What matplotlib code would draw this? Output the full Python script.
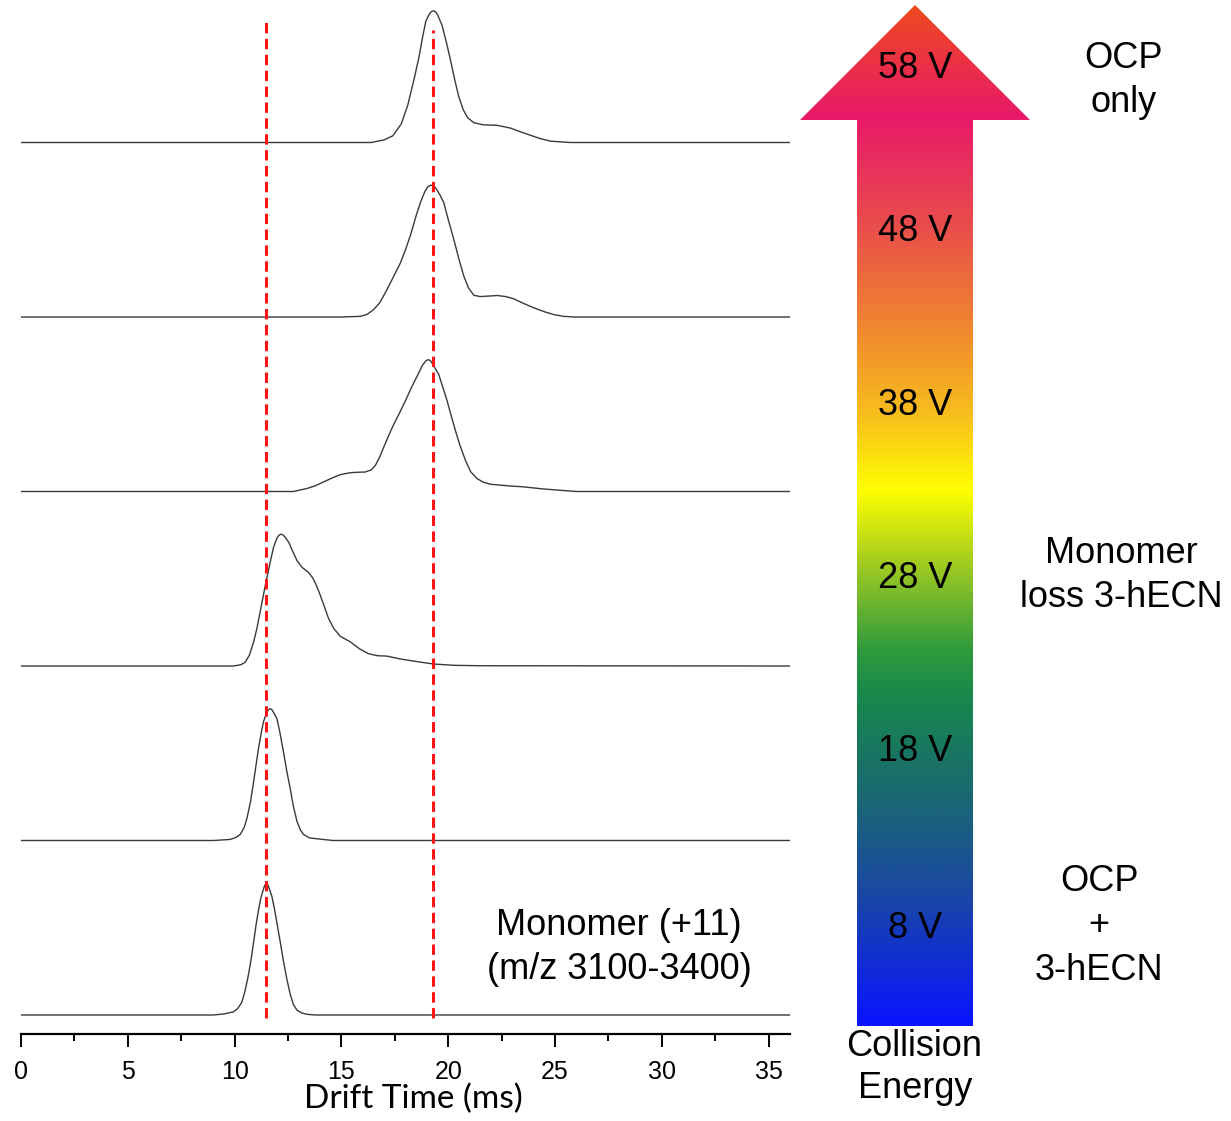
import numpy as np
import matplotlib

matplotlib.use("Agg")
import matplotlib.pyplot as plt
from matplotlib.colors import LinearSegmentedColormap
from matplotlib.patches import Polygon
from matplotlib.ticker import MultipleLocator

# drift time (ms) / relative intensity (% of each trace's max)
t_58 = [0, 16.4, 17.0, 17.4, 17.8, 18.1, 18.4, 18.62, 18.8, 18.95, 19.1, 19.2, 19.32,
        19.42, 19.5, 19.71, 19.9, 20.1, 20.3, 20.49, 20.7, 20.9, 21.2, 21.6, 22.3, 22.9,
        23.4, 23.85, 24.3, 24.8, 25.7, 36]
i_58 = [0, 0, 2, 5, 14, 28, 48, 64, 80, 92, 97, 99.3, 100,
        99, 97, 89, 77, 63, 48, 35, 25, 19, 15, 13.5, 13, 11,
        8, 5.5, 3, 1, 0, 0]

t_48 = [0, 15.0, 15.9, 16.2, 16.51, 16.8, 17.14, 17.45, 17.76, 18.0, 18.23, 18.5, 18.7,
        18.9, 19.05, 19.15, 19.25, 19.35, 19.45, 19.6, 19.79, 20.0, 20.26, 20.5, 20.73,
        20.95, 21.2, 21.5, 22.0, 22.3, 22.7, 23.07, 23.5, 24.0, 24.5, 24.95, 25.4, 25.9, 36]
i_48 = [0, 0, 0.5, 2, 5.6, 11, 21, 31, 41, 51, 62, 77, 87,
        95, 99, 99.8, 100, 99.2, 97, 93, 87, 74, 59, 44, 31,
        22, 16.5, 15.5, 16, 16.3, 15.5, 13.8, 10.5, 7, 4, 1.8, 0.5, 0, 0]

t_38 = [0, 12.76, 13.39, 13.8, 14.17, 14.6, 14.95, 15.42, 15.8, 16.12, 16.4, 16.59, 16.8,
        16.98, 17.2, 17.45, 17.7, 17.99, 18.25, 18.54, 18.8, 18.95, 19.02, 19.09, 19.18,
        19.3, 19.56, 19.75, 19.95, 20.15, 20.34, 20.55, 20.81, 21.05, 21.35, 21.65, 21.98,
        22.8, 23.54, 24.4, 25.18, 26.0, 36]
i_38 = [0, 0, 2.3, 4.5, 7.3, 10.5, 12.8, 14.3, 14.6, 14.8, 16.5, 19.8, 26.5,
        33.6, 42, 51, 59, 68.6, 78, 87.4, 96, 99, 99.8, 100, 99,
        96, 88.7, 79, 68.6, 57, 46, 35, 23.5, 15, 9.8, 7, 5.5,
        4.3, 3.5, 2, 1, 0, 0]

t_28 = [0, 9.95, 10.3, 10.5, 10.7, 10.89, 11.05, 11.2, 11.35, 11.51, 11.67, 11.82, 11.98,
        12.08, 12.17, 12.26, 12.35, 12.53, 12.72, 12.92, 13.15, 13.46, 13.65, 13.78, 13.98,
        14.17, 14.4, 14.64, 14.95, 15.42, 15.85, 16.27, 16.7, 17.14, 17.7, 18.23, 18.8,
        19.32, 20.3, 21.5, 36]
i_28 = [0, 0, 1, 2.9, 8.5, 18.3, 29, 41.4, 54, 67, 79, 90, 97,
        99.3, 100, 99.6, 98, 94, 87, 80, 75, 71, 67, 63, 55,
        46.5, 36, 28.5, 22.5, 18.3, 13, 9.3, 7.8, 7.5, 5.5, 4.1, 2.7,
        1.5, 0.5, 0.2, 0]

t_18 = [0, 9.0, 9.79, 10.05, 10.26, 10.45, 10.58, 10.75, 10.89, 11.0, 11.12, 11.25, 11.35,
        11.5, 11.58, 11.67, 11.75, 11.83, 11.98, 12.12, 12.29, 12.45, 12.6, 12.75, 12.92,
        13.08, 13.23, 13.5, 13.86, 14.6, 36]
i_18 = [0, 0, 0.8, 2.2, 4.5, 10, 17, 30, 44.7, 57, 70, 82, 90,
        97, 99.2, 100, 99.2, 97, 92.5, 82, 67, 52, 39.7, 26, 14.5,
        8, 4.5, 2, 1.3, 0, 0]

t_8 = [0, 9.0, 9.5, 9.95, 10.15, 10.34, 10.5, 10.65, 10.77, 10.89, 11.0, 11.12, 11.23,
       11.33, 11.4, 11.48, 11.54, 11.6, 11.75, 11.87, 11.98, 12.13, 12.29, 12.45, 12.6,
       12.75, 12.92, 13.15, 13.39, 13.8, 36]
i_8 = [0, 0, 0.8, 2.4, 5, 9.8, 19, 30.7, 42, 55.3, 68, 79.8, 89,
       94.5, 98, 100, 99.3, 97, 89.7, 80, 70, 56, 40.5, 27, 16,
       8, 3.7, 1.5, 0.5, 0, 0]

# bottom to top
traces = [(t_8, i_8), (t_18, i_18), (t_28, i_28), (t_38, i_38), (t_48, i_48), (t_58, i_58)]
voltages = ["8 V", "18 V", "28 V", "38 V", "48 V", "58 V"]
ref_lines = [11.48, 19.31]   # dashed markers (ms)

W, H = 1231, 1121
PX = 174.5                   # pixels between stacked baselines
PEAK = 0.755                 # peak height as fraction of trace spacing

fig = plt.figure(figsize=(W / 100, H / 100), dpi=100)

ax = fig.add_axes([21 / W, (H - 1034) / H, 769 / W, 1034 / H])
ax.set_xlim(0, 36)
ax.set_ylim(-19 / PX, 1015 / PX)

for k, (t, inten) in enumerate(traces):
    ax.plot(t, k + np.asarray(inten) / 100 * PEAK, color="#3a3a3a", lw=1.0,
            solid_joinstyle="round")

ax.vlines(ref_lines[0], -3 / PX, (1015 - 22) / PX, color="#ff1414", lw=2.2,
          linestyles=(0, (3.4, 1.8)))
ax.vlines(ref_lines[1], -3 / PX, (1015 - 30) / PX, color="#ff1414", lw=2.2,
          linestyles=(0, (3.4, 1.8)))

for s in ("left", "right", "top"):
    ax.spines[s].set_visible(False)
ax.spines["bottom"].set_linewidth(1.6)
ax.set_yticks([])
ax.xaxis.set_major_locator(MultipleLocator(5))
ax.xaxis.set_minor_locator(MultipleLocator(2.5))
ax.tick_params(axis="x", which="major", length=9.5, width=1.4, pad=9,
               labelsize=18, direction="out")
ax.tick_params(axis="x", which="minor", length=5, width=1.4, direction="out")
for lab in ax.get_xticklabels():
    lab.set_family(["Liberation Sans Narrow", "Liberation Sans", "DejaVu Sans"])
    lab.set_stretch("condensed")

# overlay in pixel coordinates for the arrow and labels
ov = fig.add_axes([0, 0, 1, 1])
ov.set_xlim(0, W)
ov.set_ylim(H, 0)
ov.axis("off")

arrow_xy = [(857, 1026), (857, 120), (800, 120), (915, 5), (1030, 120), (973, 120), (973, 1026)]
grad_y = [5, 115, 230, 330, 420, 490, 565, 650, 700, 790, 890, 1026]
grad_c = ["#ee4a1e", "#e8196a", "#e9504a", "#f0882e", "#f8c21c", "#ffff00",
          "#a0cb22", "#2f9a3c", "#17874c", "#1a6a70", "#1a4aa0", "#0a14ff"]
y0, y1 = grad_y[0], grad_y[-1]
cmap = LinearSegmentedColormap.from_list(
    "ce", [((y - y0) / (y1 - y0), c) for y, c in zip(grad_y, grad_c)])
poly = Polygon(arrow_xy, closed=True, facecolor="none", edgecolor="none")
ov.add_patch(poly)
grad = np.linspace(0, 1, 512).reshape(-1, 1)
im = ov.imshow(grad, cmap=cmap, extent=[800, 1030, y1, y0], aspect="auto",
               origin="upper", interpolation="bilinear")
im.set_clip_path(poly)
ov.set_xlim(0, W)
ov.set_ylim(H, 0)

arial = ["Liberation Sans", "DejaVu Sans"]
volt_y = [938, 761, 588, 415, 241, 78]
for v, y in zip(voltages, volt_y):
    ov.text(915, y, v, fontsize=26, family=arial, ha="center", va="baseline")

side_labels = [
    ("OCP", 1123, 68), ("only", 1124, 112),
    ("Monomer", 1121, 563), ("loss 3-hECN", 1121, 607),
    ("OCP", 1099, 891), ("+", 1099, 935), ("3-hECN", 1099, 980),
    ("Collision", 914, 1056), ("Energy", 915, 1098),
    ("Monomer (+11)", 619, 935), ("(m/z 3100-3400)", 619, 979),
]
for s, x, y in side_labels:
    ov.text(x, y, s, fontsize=26, family=arial, ha="center", va="baseline")

ov.text(413, 1108, "Drift Time (ms)", fontsize=24, family=["Lato", "DejaVu Sans"],
        ha="center", va="baseline")

fig.savefig("out.png", dpi=100)
